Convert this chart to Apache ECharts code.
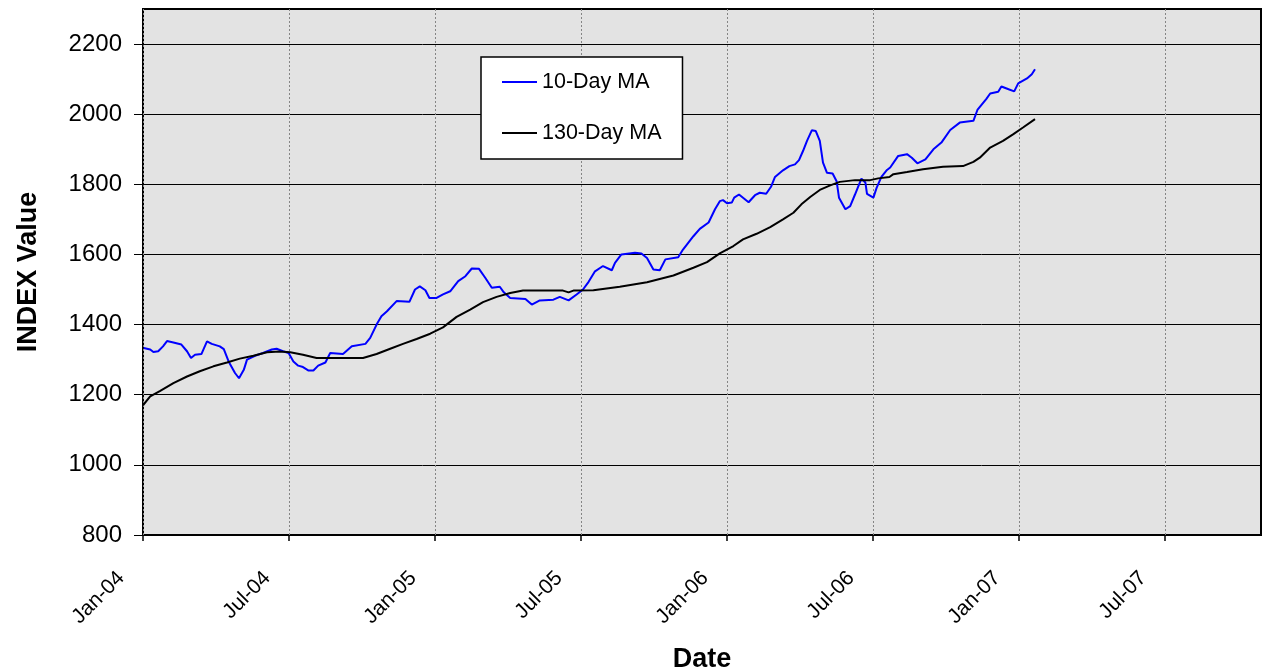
<!DOCTYPE html>
<html>
<head>
<meta charset="utf-8">
<script src="https://cdn.jsdelivr.net/npm/echarts@6/dist/echarts.min.js"></script>
<style>
html,body{margin:0;padding:0;background:#fff;}
#chart{width:1262px;height:671px;}
</style>
</head>
<body>
<div id="chart"></div>
<script>
// x values are days since 1 Jan 2004
const days10 = [1,9,13,19,25,30,38,48,55,60,65,73,80,86,96,101,107,115,120,126,130,140,150,161,167,175,182,188,194,200,207,213,219,228,234,250,261,278,284,292,298,305,317,333,340,346,353,358,367,375,384,394,403,411,420,428,436,446,451,459,478,486,496,513,521,532,542,550,557,565,575,586,590,598,615,623,630,638,646,653,669,675,688,696,707,715,721,725,730,736,739,745,757,765,771,779,785,790,800,808,815,820,825,830,836,841,846,850,855,862,867,870,878,884,890,898,903,905,913,917,923,930,934,944,955,961,968,978,988,998,1009,1021,1038,1043,1054,1059,1069,1073,1082,1089,1094,1105,1111,1115];
const ma10 = [1333,1329,1322,1324,1338,1353,1349,1343,1324,1305,1314,1316,1352,1345,1338,1330,1295,1262,1247,1271,1300,1311,1319,1329,1331,1324,1319,1295,1283,1279,1269,1269,1283,1292,1319,1316,1338,1345,1362,1400,1424,1438,1467,1465,1500,1509,1498,1476,1476,1486,1495,1524,1538,1560,1559,1533,1505,1508,1492,1476,1473,1457,1469,1471,1479,1469,1486,1500,1522,1552,1567,1555,1576,1600,1605,1603,1590,1557,1555,1586,1592,1614,1652,1673,1691,1729,1752,1755,1746,1748,1762,1771,1749,1769,1776,1773,1793,1821,1840,1852,1857,1869,1895,1924,1954,1952,1924,1862,1833,1831,1809,1762,1729,1738,1771,1816,1805,1773,1762,1790,1821,1841,1848,1881,1886,1876,1860,1871,1900,1919,1955,1976,1981,2012,2043,2059,2064,2079,2071,2065,2088,2102,2114,2128];

const days130 = [0,9,21,38,55,71,88,105,121,138,155,171,184,200,217,246,275,292,309,325,342,359,375,392,409,425,442,459,475,500,525,532,538,563,596,630,663,688,705,721,738,750,767,784,800,813,823,834,846,859,871,890,909,919,933,938,955,975,1000,1025,1038,1046,1059,1075,1088,1100,1115];
const ma130 = [1170,1195,1210,1233,1252,1267,1281,1292,1303,1311,1321,1323,1321,1314,1305,1305,1305,1316,1331,1345,1359,1374,1392,1422,1443,1464,1479,1490,1497,1497,1497,1492,1497,1498,1508,1521,1540,1562,1578,1603,1624,1643,1659,1678,1700,1719,1743,1764,1784,1797,1807,1812,1812,1817,1821,1829,1835,1843,1850,1852,1864,1876,1905,1924,1943,1962,1986];

const xTickDays = [0,182.5,365,547.5,730,912.5,1095,1277.5];
const xTickLabels = ['Jan-04','Jul-04','Jan-05','Jul-05','Jan-06','Jul-06','Jan-07','Jul-07'];
const yTicks = [800,1000,1200,1400,1600,1800,2000,2200];

const FONT = '"Liberation Sans", Arial, sans-serif';
const chart = echarts.init(document.getElementById('chart'), null, {renderer:'canvas'});
chart.setOption({
  animation:false,
  backgroundColor:'#ffffff',
  grid:{left:143, top:9, right:1, bottom:136, show:true, backgroundColor:'#e3e3e3', borderColor:'#000', borderWidth:2, containLabel:false, outerBoundsMode:'none'},
  legend:{
    orient:'vertical', left:481, top:57,
    padding:[12,21,13,21], itemGap:25, itemWidth:35, itemHeight:2, icon:'rect',
    backgroundColor:'#fff', borderColor:'#000', borderWidth:1.5, borderRadius:0,
    textStyle:{fontSize:21.5, color:'#000', fontFamily:FONT, lineHeight:26},
    data:['10-Day MA','130-Day MA']
  },
  xAxis:{
    type:'value', min:0, max:1397.5, interval:182.5,
    name:'Date', nameLocation:'middle', nameGap:111,
    nameTextStyle:{fontSize:27, fontWeight:'bold', color:'#000', fontFamily:FONT},
    axisLine:{show:false},
    axisTick:{show:true, length:6, customValues:xTickDays, lineStyle:{color:'#000', width:1.5}},
    axisLabel:{customValues:xTickDays, rotate:45, margin:18, padding:[0,31,0,0], fontSize:21, color:'#000', fontFamily:FONT,
      formatter:function(v){ for(let i=0;i<xTickDays.length;i++){ if(Math.abs(xTickDays[i]-v)<1) return xTickLabels[i]; } return ''; }},
    splitLine:{show:true, lineStyle:{color:'#858585', type:[2,2], width:1}}
  },
  yAxis:{
    type:'value', min:800, max:2300, interval:200,
    name:'INDEX Value', nameLocation:'middle', nameGap:101, nameRotate:90,
    nameTextStyle:{fontSize:27, fontWeight:'bold', color:'#000', fontFamily:FONT},
    axisLine:{show:false},
    axisTick:{show:true, length:9, customValues:yTicks, lineStyle:{color:'#000', width:1}},
    axisLabel:{customValues:yTicks, margin:21, fontSize:24, color:'#000', fontFamily:FONT,
      formatter:function(v){ return String(v); }},
    splitLine:{show:true, lineStyle:{color:'#000', width:1}}
  },
  series:[
    {name:'10-Day MA', type:'line', symbol:'none', data:days10.map((d,i)=>[d,ma10[i]]), lineStyle:{color:'#0000ff', width:2}, itemStyle:{color:'#0000ff'}},
    {name:'130-Day MA', type:'line', symbol:'none', data:days130.map((d,i)=>[d,ma130[i]]), lineStyle:{color:'#000000', width:2}, itemStyle:{color:'#000000'}}
  ]
});
</script>
</body>
</html>
